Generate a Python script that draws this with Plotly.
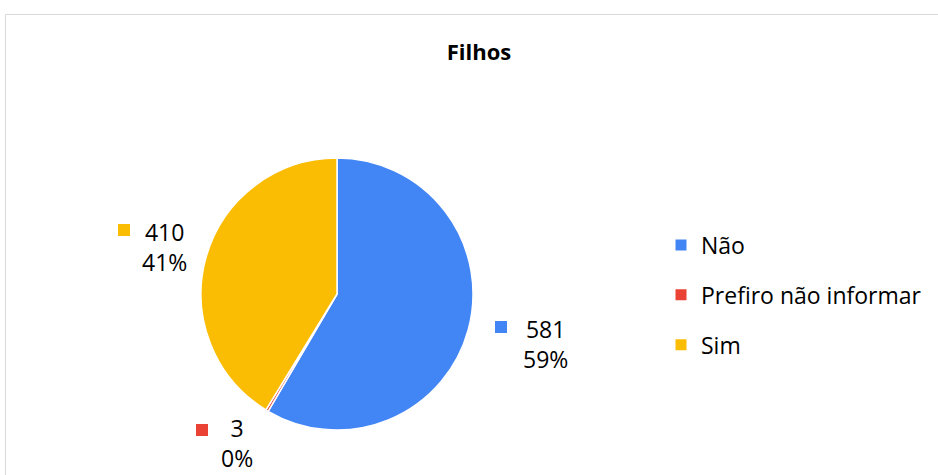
import plotly.graph_objects as go

# ---- data ----
categories = ["Não", "Prefiro não informar", "Sim"]
values = [581, 3, 410]
percent_labels = ["59%", "0%", "41%"]
colors = ["#4285F4", "#EA4335", "#FBBC04"]
title_text = "Filhos"

W, H = 938, 475
FONT = "'Open Sans', sans-serif"

def px(x):
    return x / W

def py(y):
    return 1 - y / H

fig = go.Figure()

# pie (centre ~ (337,294) px, radius ~136 px)
cx, cy, r = 337, 294, 136
fig.add_trace(go.Pie(
    labels=categories,
    values=values,
    marker=dict(colors=colors, line=dict(color="white", width=1.5)),
    sort=False,
    direction="clockwise",
    rotation=0,
    textinfo="none",
    hoverinfo="label+value+percent",
    showlegend=False,
    domain=dict(x=[px(cx - r), px(cx + r)], y=[py(cy + r), py(cy - r)]),
))

# legend entries (square markers)
for i, (cat, col) in enumerate(zip(categories, colors)):
    fig.add_trace(go.Scatter(
        x=[None], y=[None], mode="markers",
        marker=dict(symbol="square", size=11, color=col),
        name=cat, legendgroup=f"g{i}", showlegend=True,
    ))

# data label anchors (pixel positions: text block centre x / anchor y, key square centre)
label_pos = [
    dict(tx=545, ty=344, anchor="middle", kx=501, ky=327),
    dict(tx=237, ty=474.5, anchor="bottom", kx=202, ky=430),
    dict(tx=164, ty=247, anchor="middle", kx=124, ky=230),
]

annotations = []
shapes = []
for i, lp in enumerate(label_pos):
    annotations.append(dict(
        x=px(lp["tx"]), y=py(lp["ty"]), xref="paper", yref="paper",
        text=f"{values[i]}<br>{percent_labels[i]}", showarrow=False,
        xanchor="center", yanchor=lp["anchor"], align="center", borderpad=0,
        font=dict(family=FONT, size=23, color="#000000"),
    ))
    s = 6
    shapes.append(dict(
        type="rect", xref="paper", yref="paper",
        x0=px(lp["kx"] - s), x1=px(lp["kx"] + s),
        y0=py(lp["ky"] + s), y1=py(lp["ky"] - s),
        fillcolor=colors[i], line=dict(width=0),
    ))

# chart-area border
shapes.append(dict(
    type="rect", xref="paper", yref="paper",
    x0=px(5.5), x1=px(W + 5), y0=py(H + 5), y1=py(14.5),
    line=dict(color="#D9D9D9", width=1), fillcolor="rgba(0,0,0,0)", layer="below",
))

fig.update_layout(
    width=W, height=H,
    margin=dict(l=0, r=0, t=0, b=0),
    paper_bgcolor="white", plot_bgcolor="white",
    title=dict(text=f"<b>{title_text}</b>", x=px(479), y=py(52), xanchor="center", yanchor="middle",
               font=dict(family=FONT, size=22, color="#000000")),
    xaxis=dict(visible=False), yaxis=dict(visible=False),
    legend=dict(
        x=px(661), y=py(295), xanchor="left", yanchor="middle",
        font=dict(family=FONT, size=23, color="#000000"),
        tracegroupgap=17, bgcolor="rgba(0,0,0,0)", itemclick=False,
    ),
    annotations=annotations,
    shapes=shapes,
)

fig.write_html(
    "out.html",
    config={"displayModeBar": False},
    post_script="document.body.style.margin='0';document.body.style.overflow='hidden';",
)
